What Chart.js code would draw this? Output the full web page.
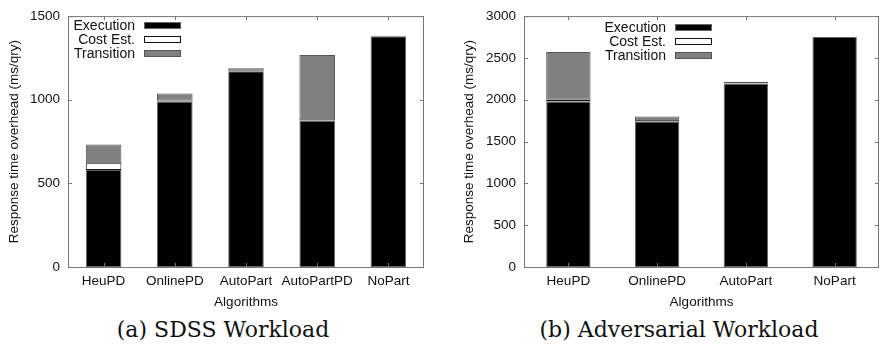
<!DOCTYPE html>
<html>
<head>
<meta charset="utf-8">
<script src="https://cdn.jsdelivr.net/npm/chart.js@4.4.1/dist/chart.umd.min.js"></script>
<style>
  body { margin: 0; background: #fff; }
  .wrap { display: flex; width: 880px; height: 346px; }
  .panel { width: 440px; height: 346px; position: relative; }
  .panel canvas { position: absolute; left: 0; top: 0; }
  .cap { position: absolute; top: 317px; transform: translateX(-50%); font-family: "DejaVu Serif", serif; font-size: 22px; color: #111; white-space: nowrap; }
</style>
</head>
<body>
<div class="wrap">
  <div class="panel"><canvas id="c1" width="440" height="310"></canvas><div class="cap" style="left:223px">(a) SDSS Workload</div></div>
  <div class="panel"><canvas id="c2" width="440" height="310"></canvas><div class="cap" style="left:239px">(b) Adversarial Workload</div></div>
</div>
<script>
// (a) SDSS workload
const sdssAlgos = ['HeuPD', 'OnlinePD', 'AutoPart', 'AutoPartPD', 'NoPart'];
const sdssExec = [580, 990, 1170, 875, 1380];
const sdssCost = [40, 5, 3, 2, 0];
const sdssTrans = [112, 42, 15, 390, 3];
const sdssTicks = [0, 500, 1000, 1500];

// (b) Adversarial workload
const advAlgos = ['HeuPD', 'OnlinePD', 'AutoPart', 'NoPart'];
const advExec = [1980, 1740, 2190, 2750];
const advCost = [20, 5, 3, 0];
const advTrans = [570, 55, 22, 0];
const advTicks = [0, 500, 1000, 1500, 2000, 2500, 3000];

const seriesNames = ['Execution', 'Cost Est.', 'Transition'];
const FONT = 'Liberation Sans, Arial, sans-serif';

// gnuplot-like box with inward ticks on all four sides
const framePlugin = {
  id: 'frame',
  afterDatasetsDraw(chart) {
    const { ctx, chartArea: a, scales } = chart;
    ctx.save();
    ctx.strokeStyle = '#777';
    ctx.lineWidth = 1;
    ctx.strokeRect(a.left + 0.5, a.top + 0.5, a.right - a.left - 1, a.bottom - a.top);
    ctx.beginPath();
    scales.y.ticks.forEach(t => {
      const y = Math.round(scales.y.getPixelForValue(t.value)) + 0.5;
      ctx.moveTo(a.left, y); ctx.lineTo(a.left + 4, y);
      ctx.moveTo(a.right, y); ctx.lineTo(a.right - 4, y);
    });
    scales.x.ticks.forEach((t, i) => {
      const x = Math.round(scales.x.getPixelForTick(i)) + 0.5;
      ctx.moveTo(x, a.top); ctx.lineTo(x, a.top + 4);
      ctx.moveTo(x, a.bottom); ctx.lineTo(x, a.bottom - 4);
    });
    ctx.stroke();
    ctx.restore();
  }
};

// legend inside plot: label right-aligned, swatch on its right
const keyPlugin = {
  id: 'key',
  afterDraw(chart, args, opts) {
    const { ctx } = chart;
    ctx.save();
    ctx.font = '14px ' + FONT;
    ctx.textAlign = 'right';
    ctx.textBaseline = 'middle';
    chart.data.datasets.forEach((ds, i) => {
      const y = opts.y + i * 14;
      ctx.fillStyle = '#111';
      ctx.fillText(ds.label, opts.x, y + 1);
      ctx.fillStyle = ds.backgroundColor;
      ctx.strokeStyle = ds.borderColor;
      ctx.lineWidth = 1;
      ctx.fillRect(opts.x + 9, y - 3, 37, 7);
      ctx.strokeRect(opts.x + 9.5, y - 2.5, 36, 6);
    });
    ctx.restore();
  }
};

function makeChart(id, labels, exec, cost, trans, ticks, yMax, layout, key) {
  return new Chart(document.getElementById(id), {
    type: 'bar',
    data: {
      labels,
      datasets: [
        { label: seriesNames[0], data: exec, backgroundColor: '#000', borderColor: '#666', borderWidth: 1 },
        { label: seriesNames[1], data: cost, backgroundColor: '#fff', borderColor: '#111', borderWidth: 1 },
        { label: seriesNames[2], data: trans, backgroundColor: '#808080', borderColor: '#555', borderWidth: 1 },
      ],
    },
    options: {
      responsive: false,
      animation: false,
      layout: { padding: { left: layout.padLeft, right: layout.padRight, top: 10, bottom: 0 } },
      datasets: { bar: { categoryPercentage: 1, barPercentage: 0.5, borderSkipped: false } },
      plugins: {
        legend: { display: false },
        tooltip: { enabled: false },
        key,
      },
      scales: {
        x: {
          stacked: true,
          grid: { display: false, drawTicks: false },
          border: { display: false },
          ticks: { color: '#111', font: { family: FONT, size: 13.5 }, padding: 6, maxRotation: 0, autoSkip: false },
          title: { display: true, text: 'Algorithms', color: '#111', font: { family: FONT, size: 13.5 }, padding: { top: 3, bottom: 0 } },
          afterFit: s => { s.height = 43; },
        },
        y: {
          stacked: true,
          min: 0,
          max: yMax,
          afterBuildTicks: s => { s.ticks = ticks.map(v => ({ value: v })); },
          grid: { display: false, drawTicks: false },
          border: { display: false },
          ticks: { color: '#111', font: { family: FONT, size: 13.5 }, padding: 8, callback: v => String(v) },
          title: { display: true, text: 'Response time overhead (ms/qry)', color: '#111', font: { family: FONT, size: 13.5 }, padding: { top: 0, bottom: 0 } },
          afterFit: s => { s.width = layout.yWidth; },
        },
      },
    },
    plugins: [framePlugin, keyPlugin],
  });
}

makeChart('c1', sdssAlgos, sdssExec, sdssCost, sdssTrans, sdssTicks, 1500,
  { padLeft: 6, padRight: 16, yWidth: 62 }, { x: 135, y: 25 });
makeChart('c2', advAlgos, advExec, advCost, advTrans, advTicks, 3000,
  { padLeft: 21, padRight: 1, yWidth: 63 }, { x: 226, y: 27 });
</script>
</body>
</html>
